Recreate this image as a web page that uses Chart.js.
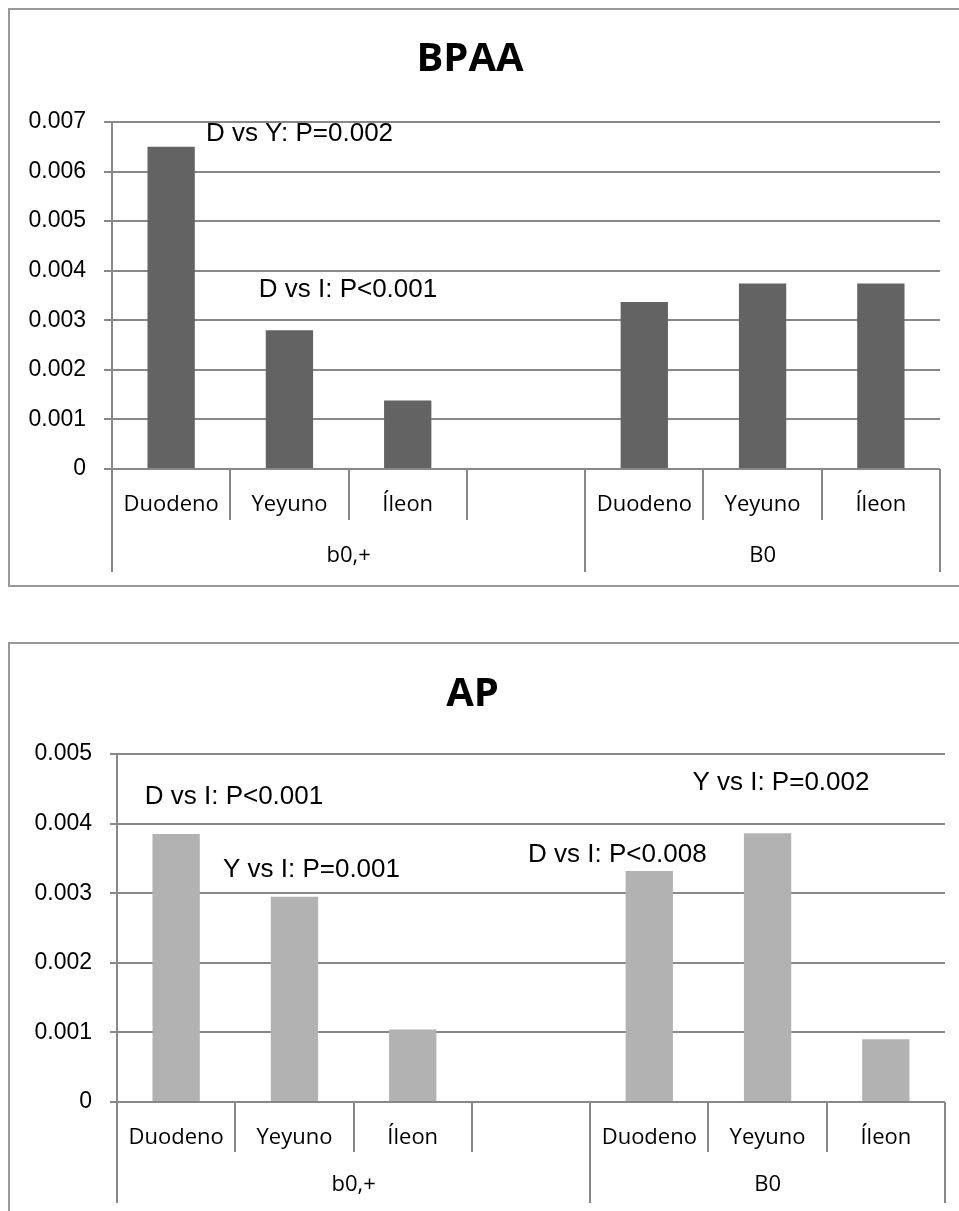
<!DOCTYPE html>
<html>
<head>
<meta charset="utf-8">
<script src="https://cdn.jsdelivr.net/npm/chart.js@4"></script>
<style>
  body { margin: 0; background: #fff; overflow: hidden; }
  .frame { position: absolute; border: 2px solid #999; box-sizing: border-box; pointer-events: none; }
  canvas { position: absolute; left: 0; }
</style>
</head>
<body>
<canvas id="bpaaChart" width="959" height="600" style="top:0"></canvas>
<canvas id="apChart" width="959" height="591" style="top:620px"></canvas>
<div class="frame" style="left:8px; top:8px; width:960px; height:579px"></div>
<div class="frame" style="left:8px; top:642px; width:960px; height:600px"></div>
<script>
  // Data
  const categories = ["Duodeno", "Yeyuno", "Íleon", "", "Duodeno", "Yeyuno", "Íleon"];
  const groupLabels = ["b0,+", "B0"];
  const groupSpans = [4, 3];
  const bpaaValues = [0.0065, 0.0028, 0.00138, null, 0.00337, 0.00374, 0.00374];
  const apValues = [0.00385, 0.00295, 0.00104, null, 0.00332, 0.00386, 0.0009];
  const bpaaMax = 0.007;
  const apMax = 0.005;
  const bpaaNotes = [
    { text: "D vs Y: P=0.002", cat: 1.085, value: 0.00677 },
    { text: "D vs I: P<0.001", cat: 1.495, value: 0.00361 },
  ];
  const apNotes = [
    { text: "D vs I: P<0.001", cat: 0.489, value: 0.00438 },
    { text: "Y vs I: P=0.001", cat: 1.144, value: 0.00333 },
    { text: "Y vs I: P=0.002", cat: 5.113, value: 0.00459 },
    { text: "D vs I: P<0.008", cat: 3.73, value: 0.00355 },
  ];

  const gridColor = "#888";

  // draws the two-level category table under the axis and the P-value notes
  const tableAxis = {
    id: "tableAxis",
    afterDraw(chart, args, opts) {
      const ctx = chart.ctx;
      const xs = chart.scales.x;
      const ys = chart.scales.y;
      const area = chart.chartArea;
      const base = ys.getPixelForValue(0);
      const n = chart.data.labels.length;
      const edge = (i) => {
        if (i <= 0) return area.left;
        if (i >= n) return area.right;
        return (xs.getPixelForValue(i - 1) + xs.getPixelForValue(i)) / 2;
      };
      ctx.save();
      ctx.strokeStyle = gridColor;
      ctx.lineWidth = 2;
      for (let i = 0; i <= n; i++) {
        const px = Math.round(edge(i));
        ctx.beginPath();
        ctx.moveTo(px, base);
        ctx.lineTo(px, base + opts.catDepth);
        ctx.stroke();
      }
      ctx.fillStyle = "#000";
      ctx.font = "22px 'Open Sans'";
      ctx.textAlign = "center";
      ctx.textBaseline = "middle";
      let start = 0;
      groupLabels.forEach((label, k) => {
        const end = start + groupSpans[k];
        [start, end].forEach((i) => {
          const px = Math.round(edge(i));
          ctx.beginPath();
          ctx.moveTo(px, base);
          ctx.lineTo(px, base + opts.groupDepth);
          ctx.stroke();
        });
        ctx.fillText(label, (edge(start) + edge(end)) / 2, base + opts.groupLabelY);
        start = end;
      });
      ctx.font = "26px 'Liberation Sans'";
      opts.notes.forEach((note) => {
        ctx.fillText(note.text, xs.getPixelForValue(note.cat), ys.getPixelForValue(note.value));
      });
      ctx.restore();
    },
  };

  function makeChart(id, title, values, color, max, notes, dims) {
    return new Chart(document.getElementById(id), {
      type: "bar",
      data: {
        labels: categories,
        datasets: [
          {
            data: values,
            backgroundColor: color,
            categoryPercentage: 1,
            barPercentage: 0.4,
          },
        ],
      },
      options: {
        responsive: false,
        animation: false,
        layout: {
          padding: { left: 0, right: dims.right, top: 0, bottom: 0 },
        },
        plugins: {
          legend: { display: false },
          tooltip: { enabled: false },
          title: {
            display: true,
            text: title,
            color: "#000",
            font: { family: "Open Sans", weight: "bold", size: 40 },
            lineHeight: 1.2,
            padding: { top: dims.titleTop, bottom: dims.titleBottom },
          },
          tableAxis: {
            notes: notes,
            catDepth: dims.catDepth,
            groupDepth: dims.groupDepth,
            groupLabelY: dims.groupLabelY,
          },
        },
        scales: {
          x: {
            afterFit: (scale) => {
              scale.height = dims.xHeight;
            },
            grid: { display: false },
            border: { display: false },
            ticks: {
              color: "#000",
              padding: 15,
              maxRotation: 0,
              autoSkip: false,
              font: { family: "Open Sans", size: 22 },
            },
          },
          y: {
            min: 0,
            max: max,
            afterFit: (scale) => {
              scale.width = dims.yWidth;
            },
            grid: { color: gridColor, lineWidth: 2, tickLength: dims.tick },
            border: { color: gridColor, width: 2 },
            ticks: {
              stepSize: 0.001,
              color: "#000",
              padding: 18,
              font: { family: "Liberation Sans", size: 23 },
              callback: (v) => (v === 0 ? "0" : v.toFixed(3)),
            },
          },
        },
      },
      plugins: [tableAxis],
    });
  }

  makeChart("bpaaChart", "BPAA", bpaaValues, "#636363", bpaaMax, bpaaNotes, {
    right: 19, titleTop: 36, titleBottom: 38, xHeight: 131, yWidth: 112,
    tick: 8, catDepth: 51, groupDepth: 103, groupLabelY: 87,
  });
  makeChart("apChart", "AP", apValues, "#b2b2b2", apMax, apNotes, {
    right: 14, titleTop: 51, titleBottom: 35, xHeight: 109, yWidth: 117,
    tick: 7, catDepth: 50, groupDepth: 101, groupLabelY: 83,
  });
</script>
</body>
</html>
